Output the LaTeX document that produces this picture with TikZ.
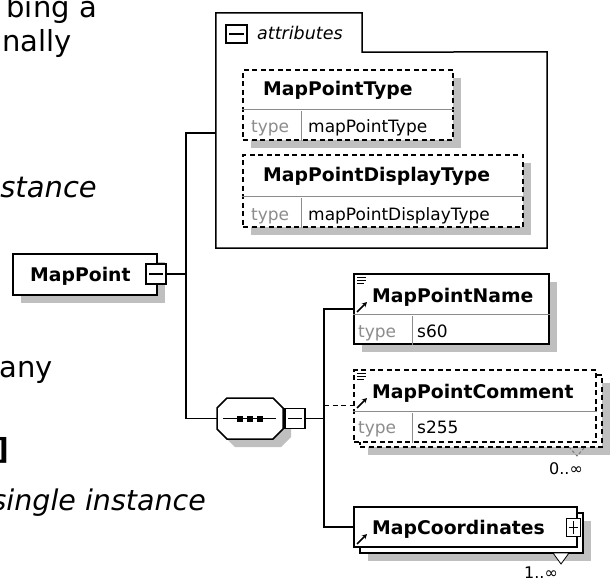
\documentclass[tikz,border=0pt]{standalone}
\usepackage{fontspec}
\setmainfont{DejaVu Sans}
\usepackage{tikz}
\usetikzlibrary{arrows.meta, positioning, calc, fit}

\tikzset{
	shade box/.style={fill=black!25, draw=none},
	elem/.style={draw, fill=white, line width=1.5pt, inner sep=0pt},
	opt elem/.style={elem, dash pattern=on 5pt off 3.5pt},
	row line/.style={draw=black!45, line width=1pt},
	toggle/.style={draw, fill=white, line width=1.2pt, minimum width=20pt, minimum height=20pt, inner sep=0pt},
	wire/.style={line width=1.6pt},
	lbl/.style={font=\fontsize{18.8}{20}\selectfont\bfseries, inner sep=0pt, anchor=base west},
	typ/.style={font=\fontsize{17}{19}\selectfont, text=black!45, inner sep=0pt, anchor=base west},
	val/.style={font=\fontsize{17}{19}\selectfont, inner sep=0pt, anchor=base west},
	page/.style={font=\fontsize{29}{32}\selectfont, inner sep=0pt, anchor=base east},
	occ/.style={font=\fontsize{16}{18}\selectfont, inner sep=0pt, anchor=base},
	refarrow/.style={line width=1.5pt, -{Stealth[length=5pt, width=5pt]}},
}

\begin{document}
\begin{tikzpicture}[x=1pt, y=-1pt]
			\useasboundingbox (0,0) rectangle (610,580);
			\clip (0,0) rectangle (610,580);
			% Text of the page behind:
			\node[page] (pg1) at (97,18) {bing a};
			\node[page] (pg2) at (72,52) {nally};
			\node[page, font=\fontsize{29}{32}\selectfont\itshape] (pg3) at (97,197) {stance};
			\node[page] (pg4) at (53,377) {any};
			\node[page, font=\fontsize{29}{32}\selectfont\bfseries] (pg5) at (9,459) {]};
			\node[page, font=\fontsize{28.5}{32}\selectfont\itshape] (pg6) at (206,510) {single instance};
			% Shadows:
			\fill[shade box] (21,262) rectangle (165,303);
			\fill[shade box] (251,78) rectangle (461,148);
			\fill[shade box] (251,163) rectangle (531,235);
			\fill[shade box] (235,406) -- (281,406) -- (291,416) -- (291,437) -- (281,447) -- (235,447) -- (225,437) -- (225,416) -- cycle;
			\fill[shade box] (362,282) rectangle (557,352);
			\fill[shade box] (368,383) rectangle (610,455);
			\fill[shade box] (368,521) rectangle (591,561);
			% Root element:
			\node[elem, fit={(13,254) (157,295)}] (mapPoint) {};
			\node[lbl] (mapPointLbl) at (30,281) {MapPoint};
			\node[toggle] (mapPointTgl) at (156,274) {};
			\draw[line width=1.2pt] ($(mapPointTgl.west)+(4,0)$) -- ($(mapPointTgl.east)+(-4,0)$);
			% Attributes:
			\node[inner sep=0pt, fit={(216,13) (362,52)}] (attrTab) {};
			\node[inner sep=0pt, fit={(216,52) (547,248)}] (attrBody) {};
			\draw[line width=1.5pt] (attrTab.north west) -- (attrTab.north east) -- (attrTab.south east) -- (attrBody.north east) -- (attrBody.south east) -- (attrBody.south west) -- cycle;
			\node[toggle, minimum width=21pt, minimum height=18pt] (attrTgl) at (236.5,34) {};
			\draw[line width=1.2pt] ($(attrTgl.west)+(4,0)$) -- ($(attrTgl.east)+(-4,0)$);
			\node[font=\fontsize{17.5}{19}\selectfont\itshape, inner sep=0pt, anchor=base west] (attrLbl) at (257,40) {attributes};
			\node[opt elem, fit={(243,70) (453,140)}] (mpType) {};
			\draw[row line] ($(mpType.north west)+(0,40)$) -- ($(mpType.north east)+(0,40)$);
			\draw[row line] ($(mpType.south west)+(59,0)$) -- ++(0,-30);
			\node[lbl] (mpTypeLbl) at (263,96) {MapPointType};
			\node[typ] (mpTypeKey) at (251,133) {type};
			\node[val] (mpTypeVal) at (308,133) {mapPointType};
			\node[opt elem, fit={(243,155) (523,227)}] (mpDisp) {};
			\draw[row line] ($(mpDisp.north west)+(0,42)$) -- ($(mpDisp.north east)+(0,42)$);
			\draw[row line] ($(mpDisp.south west)+(59,0)$) -- ++(0,-30);
			\node[lbl] (mpDispLbl) at (263,182) {MapPointDisplayType};
			\node[typ] (mpDispKey) at (251,220) {type};
			\node[val] (mpDispVal) at (308,220) {mapPointDisplayType};
			% Sequence:
			\node[inner sep=0pt, fit={(217,398) (283,439)}] (seq) {};
			\filldraw[line width=1.5pt, fill=white] (227,398) -- (273,398) -- (283,408) -- (283,429) -- (273,439) -- (227,439) -- (217,429) -- (217,408) -- cycle;
			\draw[line width=1.5pt] (223,418.5) -- (276,418.5);
			\foreach \sx in {240,250,260}
				\fill (\sx-3,415.5) rectangle (\sx+3,421.5);
			\node[toggle] (seqTgl) at (295,418.5) {};
			\draw[line width=1.2pt] ($(seqTgl.west)+(4,0)$) -- ($(seqTgl.east)+(-4,0)$);
			% Child elements:
			\node[elem, fit={(354,274) (549,344)}] (pName) {};
			\draw[row line] ($(pName.north west)+(0,41)$) -- ($(pName.north east)+(0,41)$);
			\draw[row line] ($(pName.south west)+(59,0)$) -- ++(0,-29);
			\node[lbl] (pNameLbl) at (372,302) {MapPointName};
			\node[typ] (pNameKey) at (358,337) {type};
			\node[val] (pNameVal) at (417,337) {s60};
			\draw[line width=0.8pt] (357,277) -- ++(9,0) (357,280) -- ++(9,0) (357,283) -- ++(7,0);
			\draw[refarrow] (357,312) -- (367,302);
			\node[opt elem, fit={(360,375) (602,447)}] (pCommBack) {};
			\node[opt elem, fit={(354,370) (596,442)}] (pComm) {};
			\draw[row line] ($(pComm.north west)+(0,42)$) -- ($(pComm.north east)+(0,42)$);
			\draw[row line] ($(pComm.south west)+(59,0)$) -- ++(0,-30);
			\node[lbl] (pCommLbl) at (372,398) {MapPointComment};
			\node[typ] (pCommKey) at (358,433) {type};
			\node[val] (pCommVal) at (417,433) {s255};
			\draw[line width=0.8pt] (357,373) -- ++(9,0) (357,376) -- ++(9,0) (357,379) -- ++(7,0);
			\draw[refarrow] (357,408) -- (367,398);
			\draw[black!55, line width=0.8pt, dash pattern=on 3pt off 2pt] (569,447) -- (577,456) -- (585,447);
			\node[occ] (pCommOcc) at (566,474) {0..∞};
			\node[elem, fit={(360,513) (583,553)}] (pCoordBack) {};
			\node[elem, fit={(354,507) (577,547)}] (pCoord) {};
			\node[lbl] (pCoordLbl) at (372,534) {MapCoordinates};
			\draw[refarrow] (357,544) -- (367,534);
			\node[toggle, minimum width=14pt, minimum height=18pt] (pCoordTgl) at (573.5,527.5) {};
			\draw[line width=1.2pt] ($(pCoordTgl.west)+(3,0)$) -- ($(pCoordTgl.east)+(-3,0)$) ($(pCoordTgl.north)+(0,3)$) -- ($(pCoordTgl.south)+(0,-3)$);
			\filldraw[fill=white, line width=0.8pt] (553,553) -- (569,553) -- (561,564) -- cycle;
			\node[occ] (pCoordOcc) at (541,578) {1..∞};
			% Wires:
			\coordinate (forkA) at (186,274);
			\coordinate (attrIn) at (216,133);
			\draw[wire] (mapPointTgl.east) -- (forkA) |- (attrIn);
			\draw[wire] (forkA) |- (seq.west);
			\coordinate (forkB) at (324,418.5);
			\draw[wire] (seqTgl.east) -- (forkB);
			\draw[wire] (forkB) |- ($(pName.north west)+(0,36)$);
			\draw[wire] (forkB) |- (pCoord.west);
			\draw[wire, line width=1.2pt, dash pattern=on 5pt off 3.5pt] (forkB |- {$(pComm.north west)+(0,36)$}) -- ($(pComm.north west)+(0,36)$);
		\end{tikzpicture}
\end{document}
